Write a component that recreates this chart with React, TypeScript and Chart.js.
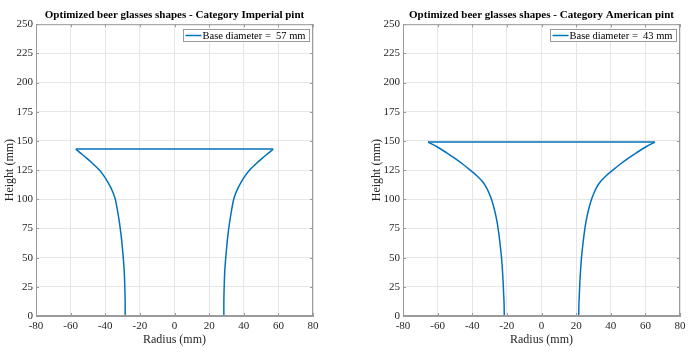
import React, { useEffect, useRef } from "react";
import { Chart, registerables } from "chart.js";
Chart.register(...registerables);

const imperialTitle = "Optimized beer glasses shapes - Category Imperial pint";
const americanTitle = "Optimized beer glasses shapes - Category American pint";
const imperialLegend = "Base diameter =  57 mm";
const americanLegend = "Base diameter =  43 mm";

const imperialHeights = [0, 10, 20, 30, 40, 50, 60, 70, 80, 90, 100, 105, 110, 115, 120, 125, 130, 135, 140, 143];
const imperialRadii = [28.5, 28.5, 28.6, 28.8, 29.1, 29.6, 30.2, 30.9, 31.8, 32.9, 34.2, 35.3, 36.8, 38.6, 40.8, 43.4, 46.8, 50.6, 54.6, 57.0];

const americanHeights = [0, 10, 20, 30, 40, 50, 60, 70, 80, 90, 100, 105, 110, 115, 120, 125, 130, 135, 140, 145, 149];
const americanRadii = [21.5, 21.6, 21.9, 22.2, 22.6, 23.1, 23.8, 24.6, 25.6, 27.0, 28.9, 30.2, 31.8, 34.0, 37.2, 41.2, 45.4, 50.0, 55.0, 60.4, 65.5];

const xMin = -80, xMax = 80, xStep = 20;
const yMin = 0, yMax = 250, yStep = 25;

const FONT = "'Liberation Serif', 'Times New Roman', serif";
const LINE = "#0072BD";
const AXIS = "#9a9a9a";
const GRID = "#e6e6e6";
const TEXT = "#262626";

function Panel(props: {
  left: number; width: number; padRight: number; title: string; legend: string;
  heights: number[]; radii: number[];
}) {
  const ref = useRef<HTMLCanvasElement | null>(null);
  useEffect(() => {
    if (!ref.current) return;
    const { heights, radii } = props;
    const n = heights.length - 1;
    const leftSide = heights.map((h, i) => ({ x: -radii[i], y: h }));
    const rightSide = heights.map((h, i) => ({ x: radii[i], y: h }));
    const rim = [{ x: -radii[n], y: heights[n] }, { x: radii[n], y: heights[n] }];
    const common = {
      showLine: true,
      borderColor: LINE,
      backgroundColor: LINE,
      borderWidth: 1.5,
      pointRadius: 0,
      fill: false,
    };
    const boxPlugin = {
      id: "boxPlugin",
      afterDraw(chart: any) {
        const { ctx, chartArea: a, scales } = chart;
        ctx.save();
        ctx.strokeStyle = AXIS;
        ctx.lineWidth = 1;
        ctx.strokeRect(a.left + 0.5, a.top + 0.5, a.right - a.left - 1, a.bottom - a.top - 1);
        const tl = 3;
        ctx.beginPath();
        scales.x.ticks.forEach((t: any) => {
          const px = Math.round(scales.x.getPixelForValue(t.value)) + 0.5;
          ctx.moveTo(px, a.bottom); ctx.lineTo(px, a.bottom - tl);
          ctx.moveTo(px, a.top); ctx.lineTo(px, a.top + tl);
        });
        scales.y.ticks.forEach((t: any) => {
          const py = Math.round(scales.y.getPixelForValue(t.value)) + 0.5;
          ctx.moveTo(a.left, py); ctx.lineTo(a.left + tl, py);
          ctx.moveTo(a.right, py); ctx.lineTo(a.right - tl, py);
        });
        ctx.stroke();
        // legend box inside the plot
        ctx.font = `10.5px ${FONT}`;
        const tw = ctx.measureText(props.legend).width;
        const lineLen = 16;
        const bw = 2 + lineLen + 2 + tw + 3;
        const bh = 12;
        const bx = Math.round(a.right - 4 - bw) + 0.5;
        const by = Math.round(a.top + 5) + 0.5;
        ctx.fillStyle = "#ffffff";
        ctx.fillRect(bx, by, bw, bh);
        ctx.strokeStyle = AXIS;
        ctx.strokeRect(bx, by, bw, bh);
        ctx.strokeStyle = LINE;
        ctx.lineWidth = 1.5;
        ctx.beginPath();
        ctx.moveTo(bx + 2, by + bh / 2);
        ctx.lineTo(bx + 2 + lineLen, by + bh / 2);
        ctx.stroke();
        ctx.fillStyle = "#000";
        ctx.textBaseline = "middle";
        ctx.textAlign = "left";
        ctx.fillText(props.legend, bx + 2 + lineLen + 1, by + bh / 2 + 0.5);
        ctx.restore();
      },
    };
    const chart = new Chart(ref.current, {
      type: "scatter",
      data: {
        datasets: [
          { ...common, label: props.legend, data: leftSide, indexAxis: "y", cubicInterpolationMode: "monotone" },
          { ...common, label: "rim", data: rim, tension: 0 },
          { ...common, label: "right", data: rightSide, indexAxis: "y", cubicInterpolationMode: "monotone" },
        ],
      },
      options: {
        responsive: false,
        animation: false,
        layout: { padding: { left: 0, right: props.padRight, top: 0, bottom: 0 } },
        plugins: {
          legend: { display: false },
          tooltip: { enabled: false },
          title: {
            display: true,
            text: props.title,
            fullSize: false,
            color: "#000",
            font: { family: FONT, size: 11, weight: "bold" },
            padding: { top: 9, bottom: 2 },
          },
        },
        scales: {
          x: {
            type: "linear",
            min: xMin, max: xMax,
            ticks: { stepSize: xStep, color: TEXT, font: { family: FONT, size: 11 }, padding: 4, maxRotation: 0 },
            grid: { color: GRID, drawTicks: false },
            border: { color: AXIS },
            title: { display: true, text: "Radius (mm)", color: TEXT, font: { family: FONT, size: 12 }, padding: { top: 0, bottom: 6 } },
            afterFit: (s: any) => { s.height = 37; },
          },
          y: {
            type: "linear",
            min: yMin, max: yMax,
            ticks: { stepSize: yStep, color: TEXT, font: { family: FONT, size: 11 }, padding: 3 },
            grid: { color: GRID, drawTicks: false },
            border: { color: AXIS },
            title: { display: true, text: "Height (mm)", color: TEXT, font: { family: FONT, size: 12 }, padding: { top: 3, bottom: 0 } },
            afterFit: (s: any) => { s.width = 36; },
          },
        },
      },
      plugins: [boxPlugin],
    } as any);
    return () => chart.destroy();
  }, []);
  return (
    <canvas
      ref={ref}
      width={props.width}
      height={353}
      style={{ position: "absolute", left: props.left, top: 0, width: props.width, height: 353 }}
    />
  );
}

export default function App() {
  return (
    <div style={{ position: "fixed", left: 0, top: 0, width: 700, height: 353, background: "#fff" }}>
      <Panel left={0} width={330} padRight={17} title={imperialTitle} legend={imperialLegend}
        heights={imperialHeights} radii={imperialRadii} />
      <Panel left={367} width={333} padRight={20} title={americanTitle} legend={americanLegend}
        heights={americanHeights} radii={americanRadii} />
    </div>
  );
}
